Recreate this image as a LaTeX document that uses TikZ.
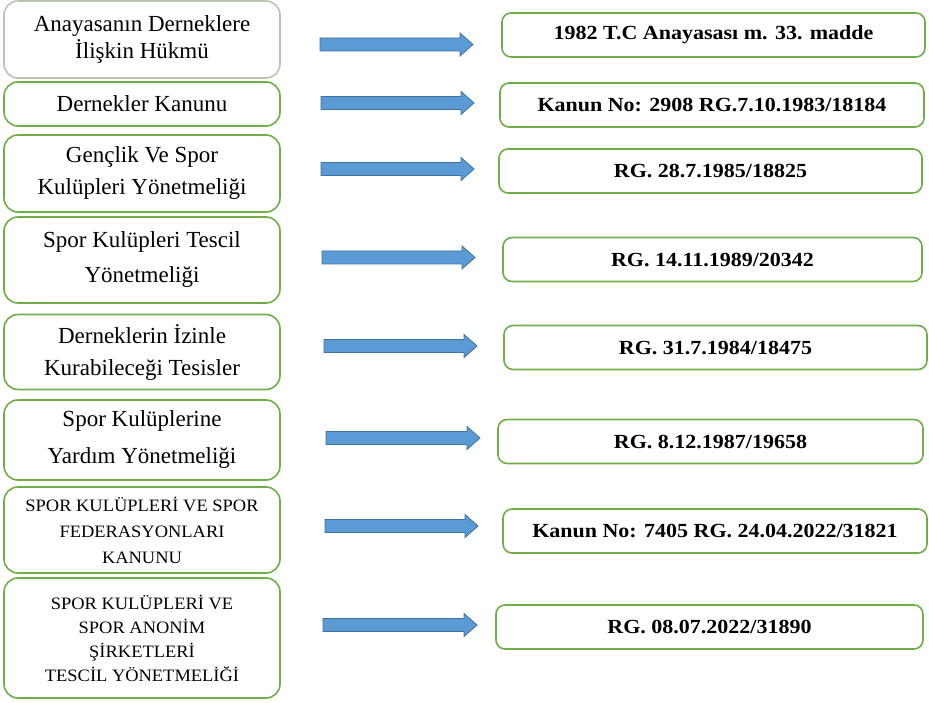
\documentclass[tikz,border=0pt]{standalone}
\usepackage{fontspec}
\setmainfont{Liberation Serif}
\newfontfamily\solfont{Liberation Serif}
\newfontfamily\buyukfont[FakeStretch=1.06]{Liberation Serif}
\newfontfamily\sagfont[FakeStretch=1.1]{Liberation Serif}
\usetikzlibrary{positioning}

\definecolor{kenar}{RGB}{112,173,71}
\definecolor{kenarsoluk}{RGB}{185,198,175}
\definecolor{okmavi}{RGB}{91,155,213}
\definecolor{okkenar}{RGB}{65,113,156}

\begin{document}
\begin{tikzpicture}[x=1pt,y=-1pt,
	solkutu/.style={draw=kenar, line width=1.6pt, rounded corners=14pt, minimum width=276pt,
		align=center, inner sep=0pt, font=\solfont\fontsize{23}{#1}\selectfont},
	solkutu/.default=27,
	buyukkutu/.style={solkutu, font=\buyukfont\fontsize{17.4}{#1}\selectfont},
	buyukkutu/.default=25,
	sagkutu/.style={draw=kenar, line width=1.6pt, rounded corners=9pt, minimum height=44pt,
		inner sep=0pt, font=\sagfont\bfseries\fontsize{20}{24}\selectfont},
	blokok/.style={fill=okmavi, draw=okkenar, line width=0.8pt}]
	\useasboundingbox (0,0) rectangle (929,703);
	
	% sol sütun: mevzuatın adı
	\node[solkutu, draw=kenarsoluk, minimum height=77pt] (s1) at (142,39.5) {Anayasanın Derneklere\\İlişkin Hükmü};
	\node[solkutu, minimum height=44pt] (s2) at (142,104) {Dernekler Kanunu};
	\node[solkutu=32, minimum height=77pt] (s3) at (142,173.5) {Gençlik Ve Spor\\Kulüpleri Yönetmeliği};
	\node[solkutu=35, minimum height=86pt] (s4) at (142,260) {Spor Kulüpleri Tescil\\Yönetmeliği};
	\node[solkutu=32, minimum height=75pt] (s5) at (142,352) {Derneklerin İzinle\\Kurabileceği Tesisler};
	\node[solkutu=37, minimum height=80pt] (s6) at (142,440) {Spor Kulüplerine\\Yardım Yönetmeliği};
	\node[buyukkutu=26, minimum height=86pt] (s7) at (142,530) {SPOR KULÜPLERİ VE SPOR\\FEDERASYONLARI\\KANUNU};
	\node[buyukkutu=24, minimum height=120pt] (s8) at (142,638) {SPOR KULÜPLERİ VE\\SPOR ANONİM\\ŞİRKETLERİ\\TESCİL YÖNETMELİĞİ};
	
	% sağ sütun: kanun no ve resmi gazete
	\node[sagkutu, minimum width=423pt] (r1) at (713.5,35) {1982 T.C Anayasası m. 33. madde};
	\node[sagkutu, minimum width=424pt] (r2) at (712,105) {Kanun No: 2908 RG.7.10.1983/18184};
	\node[sagkutu, minimum width=423pt] (r3) at (710.5,171) {RG. 28.7.1985/18825};
	\node[sagkutu, minimum width=419pt] (r4) at (712.5,259.5) {RG. 14.11.1989/20342};
	\node[sagkutu, minimum width=423pt] (r5) at (715.5,347.5) {RG. 31.7.1984/18475};
	\node[sagkutu, minimum width=425pt] (r6) at (710.5,441.5) {RG. 8.12.1987/19658};
	\node[sagkutu, minimum width=424pt] (r7) at (715,531) {Kanun No: 7405 RG. 24.04.2022/31821};
	\node[sagkutu, minimum width=427pt] (r8) at (709.5,627) {RG. 08.07.2022/31890};
	
	% aradaki mavi blok oklar
	\foreach \xa/\xb/\yy in {320/473/44.5, 321/474/103, 321/474/169, 322/475/257.5,
		324/477/346, 326/480/438, 325/478/526, 323/477/625}
	\draw[blokok] (\xa,\yy-6.5) -- (\xb-13,\yy-6.5) -- (\xb-13,\yy-11.5) -- (\xb,\yy)
		-- (\xb-13,\yy+11.5) -- (\xb-13,\yy+6.5) -- (\xa,\yy+6.5) -- cycle;
\end{tikzpicture}
\end{document}
